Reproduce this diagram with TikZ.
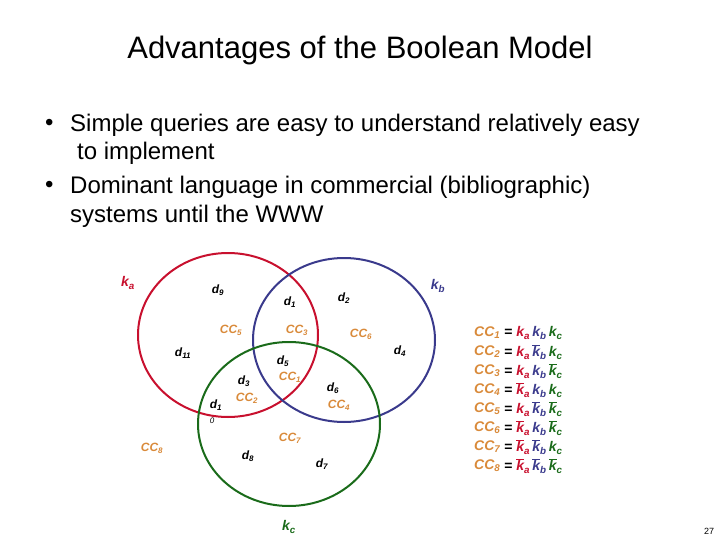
\documentclass[tikz,border=0pt]{standalone}
\usepackage{fontspec}
\setmainfont{Liberation Sans}
\begin{document}
\begin{tikzpicture}[x=1pt,y=-1pt,
  dl/.style={font=\fontsize{12}{13}\selectfont\bfseries\itshape},
  cl/.style={font=\fontsize{12}{13}\selectfont\bfseries\itshape,text=ccol},
  kl/.style={font=\fontsize{14}{15}\selectfont\bfseries\itshape},
  eq/.style={font=\fontsize{14}{15}\selectfont\bfseries\itshape,anchor=west,inner sep=0pt},
  bl/.style={font=\fontsize{24}{28}\selectfont,anchor=west,inner sep=0pt}]
\definecolor{ccol}{HTML}{D98A3A}
\definecolor{rc}{HTML}{C8102E}
\definecolor{bc}{HTML}{3A3A8C}
\definecolor{gc}{HTML}{1A6B1A}
\newcommand{\mysb}[1]{\textsubscript{#1}}
\useasboundingbox (0,0) rectangle (720,540);
\node[font=\fontsize{31}{34}\selectfont] (title) at (360,50) {Advantages of the Boolean Model};
\node[bl] (b1) at (45,125) {•};
\node[bl] (t1) at (70,125) {Simple queries are easy to understand relatively easy};
\node[bl] (t1b) at (77,153) {to implement};
\node[bl] (b2) at (45,187) {•};
\node[bl] (t2) at (70,187) {Dominant language in commercial (bibliographic)};
\node[bl] (t2b) at (70,216) {systems until the WWW};
\draw[rc,line width=2pt] (228,335) ellipse [x radius=90,y radius=82];
\draw[bc,line width=2pt] (344,340) ellipse [x radius=91,y radius=82];
\draw[gc,line width=2pt] (289,424) ellipse [x radius=91,y radius=82];
\node[kl,text=rc] (ka) at (128,283) {k\mysb{a}};
\node[kl,text=bc] (kb) at (438,286) {k\mysb{b}};
\node[kl,text=gc] (kc) at (289,527) {k\mysb{c}};
\node[dl] (d9) at (218,290) {d\mysb{9}};
\node[dl] (d1) at (290,302) {d\mysb{1}};
\node[dl] (d2) at (344,298) {d\mysb{2}};
\node[dl] (d11) at (183,353) {d\mysb{11}};
\node[dl] (d4) at (400,351) {d\mysb{4}};
\node[dl] (d5) at (283,361) {d\mysb{5}};
\node[dl] (d3) at (244,381) {d\mysb{3}};
\node[dl] (d6) at (333,388) {d\mysb{6}};
\node[dl] (d10) at (216,405) {d\mysb{1}};
\node[font=\fontsize{8}{9}\selectfont\itshape] (d10b) at (212,421) {0};
\node[dl] (d8) at (248,456) {d\mysb{8}};
\node[dl] (d7) at (322,464) {d\mysb{7}};
\node[cl] (c5) at (231,330) {CC\mysb{5}};
\node[cl] (c3) at (297,330) {CC\mysb{3}};
\node[cl] (c6) at (361,334) {CC\mysb{6}};
\node[cl] (c1) at (290,377) {CC\mysb{1}};
\node[cl] (c2) at (247,398) {CC\mysb{2}};
\node[cl] (c4) at (339,405) {CC\mysb{4}};
\node[cl] (c8) at (152,448) {CC\mysb{8}};
\node[cl] (c7) at (290,438) {CC\mysb{7}};
\newcommand{\myka}[1]{\textcolor{rc}{#1{k}\mysb{a}}}
\newcommand{\mykb}[1]{\textcolor{bc}{#1{k}\mysb{b}}}
\newcommand{\mykc}[1]{\textcolor{gc}{#1{k}\mysb{c}}}
\newcommand{\mynb}[1]{#1}
\newcommand{\myob}[1]{$\overline{\mbox{#1}}$}
\foreach \i/\A/\B/\C [count=\n from 0] in {1/\mynb/\mynb/\mynb,2/\mynb/\myob/\mynb,3/\mynb/\mynb/\myob,4/\myob/\mynb/\mynb,5/\mynb/\myob/\myob,6/\myob/\mynb/\myob,7/\myob/\myob/\mynb,8/\myob/\myob/\myob}{
  \node[eq,text=ccol] (e\i) at (474,{333+19*\n}) {CC\mysb{\i}};
  \node[eq] (r\i) at (504,{333+19*\n}) {= \myka{\A}\,\mykb{\B}\,\mykc{\C}};
}
\node[font=\fontsize{9}{10}\selectfont] (pg) at (709,531) {27};
\end{tikzpicture}
\end{document}
